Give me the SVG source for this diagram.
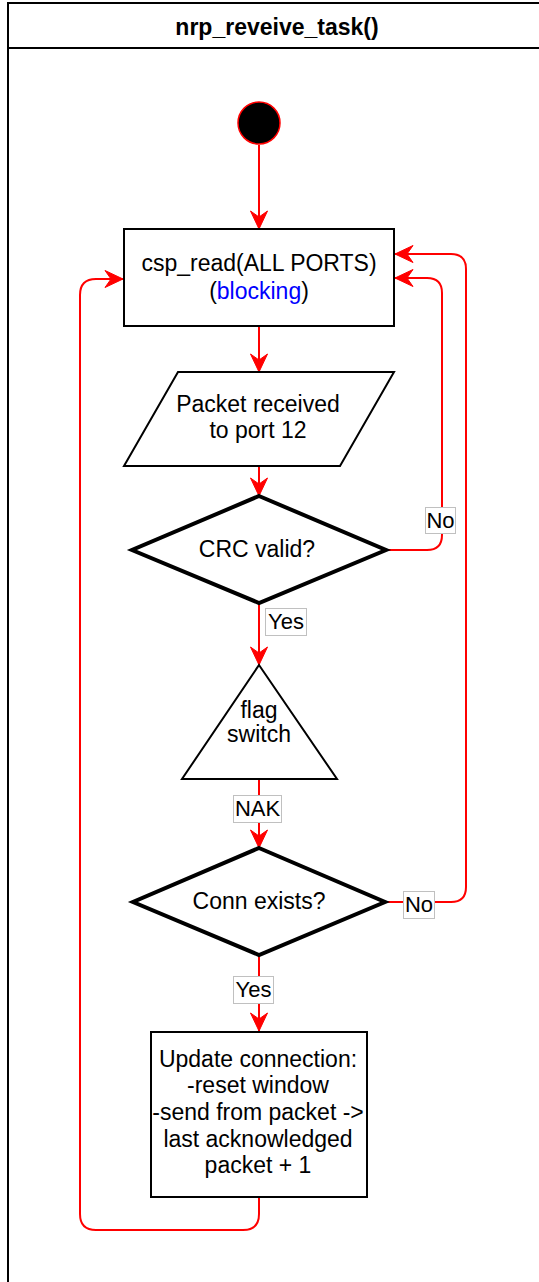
<svg xmlns="http://www.w3.org/2000/svg" width="539" height="1282" viewBox="0 0 539 1282">
  <style>
    text { font-family: "Liberation Sans", Arial, Helvetica, sans-serif; font-size: 23px; fill: #000; }
    .title { font-weight: bold; text-anchor: middle; }
    .c { text-anchor: middle; }
    .lb { font-size: 22px; }
    .shape { fill: #fff; stroke: #000; stroke-width: 2; }
    .decision { fill: #fff; stroke: #000; stroke-width: 4; stroke-linejoin: miter; }
    .edge { fill: none; stroke: #f00; stroke-width: 2; }
    .lbl { fill: #fff; stroke: #c0c0c0; stroke-width: 1; }
    .blue { fill: #0000ff; }
  </style>
  <defs>
    <marker id="arrow" markerUnits="userSpaceOnUse" markerWidth="20" markerHeight="20" viewBox="-19 -10 20 20" refX="0" refY="0" orient="auto">
      <path d="M0,0 L-18,-8.5 L-12,0 L-18,8.5 Z" fill="#f00" stroke="#f00" stroke-width="1" stroke-linejoin="miter"/>
    </marker>
  </defs>

  <!-- swimlane container -->
  <g id="container">
    <rect x="8" y="3" width="538" height="1300" fill="#fff" stroke="#000" stroke-width="2"/>
    <line x1="8" y1="48" x2="546" y2="48" stroke="#000" stroke-width="2"/>
    <text class="title" x="277" y="35">nrp_reveive_task()</text>
  </g>

  <!-- connectors -->
  <g id="connectors">
    <path class="edge" d="M259,145 L259,229" marker-end="url(#arrow)"/>
    <path class="edge" d="M259,326 L259,372" marker-end="url(#arrow)"/>
    <path class="edge" d="M259,466 L259,496" marker-end="url(#arrow)"/>
    <path class="edge" d="M386,550 L427,550 Q442,550 442,535 L442,293 Q442,278 427,278 L395,278" marker-end="url(#arrow)"/>
    <path class="edge" d="M259,603 L259,665" marker-end="url(#arrow)"/>
    <path class="edge" d="M259,779 L259,848" marker-end="url(#arrow)"/>
    <path class="edge" d="M385,902 L451,902 Q466,902 466,887 L466,269 Q466,254 451,254 L395,254" marker-end="url(#arrow)"/>
    <path class="edge" d="M259,955 L259,1031" marker-end="url(#arrow)"/>
    <path class="edge" d="M259,1197 L259,1214 Q259,1230 243,1230 L96,1230 Q80,1230 80,1214 L80,295 Q80,279 96,279 L123,279" marker-end="url(#arrow)"/>

    <!-- edge labels -->
    <rect class="lbl" x="425.5" y="507.5" width="30" height="26"/>
    <text class="c lb" x="440.5" y="528">No</text>
    <rect class="lbl" x="265.5" y="608.5" width="41" height="27"/>
    <text class="c lb" x="286" y="629">Yes</text>
    <rect class="lbl" x="233.5" y="795.5" width="48" height="27"/>
    <text class="c lb" x="257.5" y="816">NAK</text>
    <rect class="lbl" x="403.5" y="891.5" width="31" height="27"/>
    <text class="c lb" x="419" y="912">No</text>
    <rect class="lbl" x="233.5" y="976.5" width="40" height="27"/>
    <text class="c lb" x="253.5" y="997">Yes</text>
  </g>

  <g id="start">
    <circle cx="259" cy="123" r="21" fill="#000" stroke="#f00" stroke-width="1.5"/>
  </g>

  <g id="csp_read">
    <rect class="shape" x="124" y="229" width="270" height="97"/>
    <text class="c" x="259" y="271">csp_read(ALL PORTS)</text>
    <text class="c" x="259" y="299">(<tspan class="blue">blocking</tspan>)</text>
  </g>

  <g id="packet_received">
    <polygon class="shape" points="178,372 394,372 340,466 124,466"/>
    <text class="c" x="258" y="412">Packet received</text>
    <text class="c" x="258" y="438">to port 12</text>
  </g>

  <g id="crc_valid">
    <polygon class="decision" points="259,496 386,550 259,603 132,550"/>
    <text class="c" x="257" y="557">CRC valid?</text>
  </g>

  <g id="flag_switch">
    <polygon class="shape" points="259,665 337,779 182,779"/>
    <text class="c" x="259" y="718">flag</text>
    <text class="c" x="259" y="742">switch</text>
  </g>

  <g id="conn_exists">
    <polygon class="decision" points="259,848 385,902 259,955 133,902"/>
    <text class="c" x="259" y="909">Conn exists?</text>
  </g>

  <g id="update_connection">
    <rect class="shape" x="151" y="1032" width="216" height="165"/>
    <text class="c" x="258" y="1067">Update connection:</text>
    <text class="c" x="258" y="1093">-reset window</text>
    <text class="c" x="258" y="1120">-send from packet -&gt;</text>
    <text class="c" x="258" y="1147">last acknowledged</text>
    <text class="c" x="258" y="1173">packet + 1</text>
  </g>
</svg>
